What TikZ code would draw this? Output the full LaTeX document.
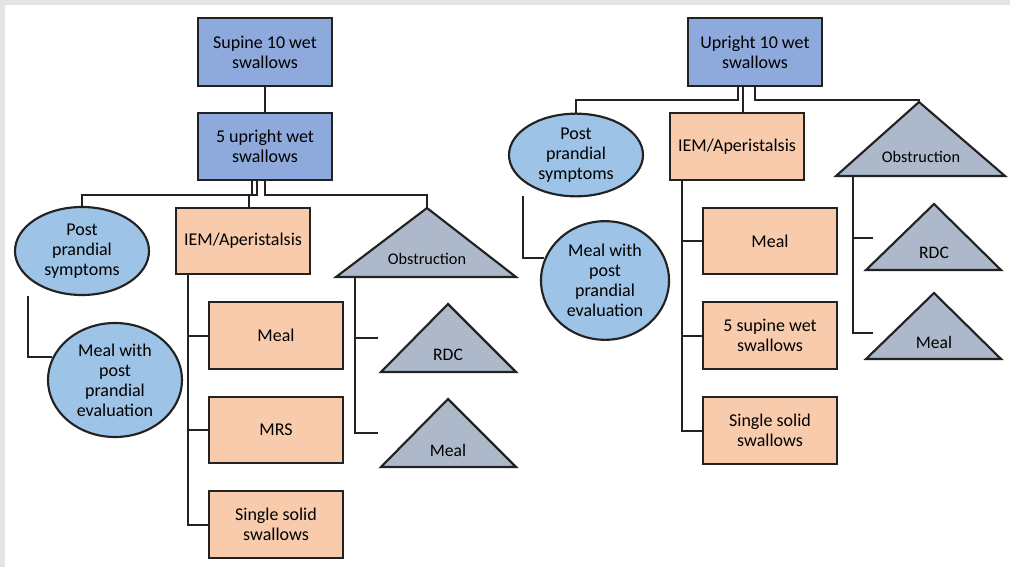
\documentclass[tikz,border=0pt]{standalone}
\usepackage{fontspec}
\setmainfont{Carlito}
\usetikzlibrary{calc,shapes.geometric}
\definecolor{boxblue}{HTML}{8EA9DB}
\definecolor{boxorange}{HTML}{F8CBAD}
\definecolor{ellblue}{HTML}{9DC3E6}
\definecolor{trigray}{HTML}{ADB9CA}
\definecolor{edge}{HTML}{222222}
\definecolor{frame}{HTML}{E4E4E4}
\tikzset{
  every node/.style={font=\fontsize{13.5}{15}\selectfont, text=black, align=center, inner sep=1pt},
  line/.style={draw=edge, line width=1.6pt},
  wire/.style={draw=edge, line width=1.5pt},
  bluebox/.style={rectangle, fill=boxblue, line, minimum width=100.5pt, minimum height=50.5pt},
  orangebox/.style={rectangle, fill=boxorange, line, minimum width=100.5pt, minimum height=50pt},
  ellnode/.style={ellipse, fill=ellblue, line, inner sep=0pt},
  tri/.style={fill=trigray, line, line join=miter},
  obstext/.style={font=\fontsize{12.2}{14}\selectfont},
  tritext/.style={font=\fontsize{13.2}{14}\selectfont},
}
\begin{document}
\begin{tikzpicture}[x=0.75pt,y=-0.75pt]
\fill[frame] (0,0) rectangle (1010,567);
\fill[white] (5,5) rectangle (1010,567);
\useasboundingbox (0,0) rectangle (1010,567);

% ---------------- Left tree ----------------
\node[bluebox] (supL) at (265,52) {Supine 10 wet\\swallows};
\node[bluebox] (upL) at (265,146.5) {5 upright wet\\swallows};
\node[ellnode, minimum width=100.5pt, minimum height=66pt] (ppsL) at (82,251) {Post\\prandial\\symptoms};
\node[orangebox] (iemL) at (243,241) {IEM/Aperistalsis};
\node[ellnode, minimum width=100.5pt, minimum height=85.5pt] (mwpL) at (115,380) {Meal with\\post\\prandial\\evaluation};
\node[orangebox] (mealL) at (276,335.5) {Meal};
\node[orangebox] (mrsL) at (276,430) {MRS};
\node[orangebox] (sssL) at (276,524.5) {Single solid\\swallows};

% triangles (left)
\coordinate (obsLtop) at (427,208);
\coordinate (obsLbase) at (355,277);
\draw[tri] (obsLtop) -- (516,277) -- (336,277) -- cycle;
\node[obstext] (obsL) at (427,259) {Obstruction};
\coordinate (rdcLtop) at (448,304);
\draw[tri] (rdcLtop) -- (516,372) -- (381,372) -- cycle;
\node[tritext] (rdcL) at (448,355) {RDC};
\coordinate (mtLtop) at (448,399);
\draw[tri] (mtLtop) -- (516,467) -- (381,467) -- cycle;
\node[tritext] (mtL) at (448,450) {Meal};

% connectors (left)
\draw[wire] (supL) -- (upL);
\draw[wire] ($(upL.south)+(-13,0)$) -- ++(0,14) -| (ppsL.north);
\draw[wire] ($(upL.south)+(-8,0)$) -- ++(0,14) -| ($(iemL.north)+(6,0)$);
\draw[wire] (upL.south) -- ++(0,14) -| (obsLtop);
\coordinate (ppsLc) at (28,296);
\draw[wire] (ppsLc) |- (mwpL.160);
\coordinate (iemLs) at ($(iemL.south west)+(13,0)$);
\draw[wire] (iemLs) |- (mealL.west);
\draw[wire] (iemLs) |- (mrsL.west);
\draw[wire] (iemLs) |- (sssL.west);
\coordinate (rdcLc) at (378,338);
\coordinate (mtLc) at (378,433);
\draw[wire] (obsLbase) |- (rdcLc);
\draw[wire] (obsLbase) |- (mtLc);

% ---------------- Right tree ----------------
\node[bluebox] (upR) at (755,52) {Upright 10 wet\\swallows};
\node[ellnode, minimum width=100.5pt, minimum height=62pt] (ppsR) at (576,155) {Post\\prandial\\symptoms};
\node[orangebox] (iemR) at (737,146.5) {IEM/Aperistalsis};
\node[ellnode, minimum width=96pt, minimum height=89pt] (mwpR) at (605,280.5) {Meal with\\post\\prandial\\evaluation};
\node[orangebox] (mealR) at (770,241) {Meal};
\node[orangebox] (fswR) at (770,335.5) {5 supine wet\\swallows};
\node[orangebox] (sssR) at (770,430.5) {Single solid\\swallows};

% triangles (right)
\coordinate (obsRtop) at (919,102);
\coordinate (obsRbase) at (853,176);
\draw[tri] (obsRtop) -- (1005,176) -- (836,176) -- cycle;
\node[obstext] (obsR) at (921,157) {Obstruction};
\coordinate (rdcRtop) at (934,204);
\draw[tri] (rdcRtop) -- (1001,270) -- (866,270) -- cycle;
\node[tritext] (rdcR) at (934,253) {RDC};
\coordinate (mtRtop) at (934,293);
\draw[tri] (mtRtop) -- (1001,359) -- (866,359) -- cycle;
\node[tritext] (mtR) at (934,342) {Meal};

% connectors (right)
\draw[wire] ($(upR.south)+(-17,0)$) -- ++(0,13) -| (ppsR.north);
\draw[wire] ($(upR.south)+(-12,0)$) -- ($(iemR.north)+(6,0)$);
\draw[wire] (upR.south) -- ++(0,13) -| (obsRtop);
\coordinate (ppsRc) at (523,196);
\draw[wire] (ppsRc) |- (mwpR.160);
\coordinate (iemRs) at ($(iemR.south west)+(13,0)$);
\draw[wire] (iemRs) |- (mealR.west);
\draw[wire] (iemRs) |- (fswR.west);
\draw[wire] (iemRs) |- (sssR.west);
\coordinate (rdcRc) at (873,238);
\coordinate (mtRc) at (873,333);
\draw[wire] (obsRbase) |- (rdcRc);
\draw[wire] (obsRbase) |- (mtRc);
\end{tikzpicture}
\end{document}
